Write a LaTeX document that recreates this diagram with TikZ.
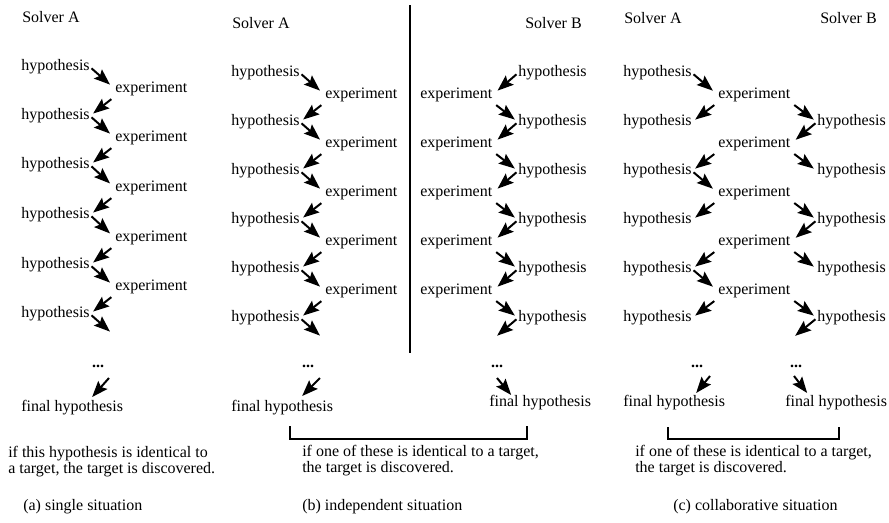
\documentclass[tikz,border=0pt]{standalone}
\usepackage{fontspec}
\setmainfont{Liberation Serif}
\usetikzlibrary{arrows.meta}
\tikzset{
  lbl/.style={anchor=west, inner sep=0pt},
  note/.style={anchor=north west, inner sep=0pt, align=left},
  flow/.style={-{Stealth[length=12pt,width=9pt,inset=2pt]}, line width=1.5pt},
  fwd/.style={flow, shorten <=1.5pt, shorten >=5pt},
  bck/.style={flow, shorten <=3.5pt, shorten >=3pt},
}
\begin{document}
\begin{tikzpicture}[x=0.75pt, y=-0.75pt, font=\fontsize{12pt}{12.2pt}\selectfont]
        \useasboundingbox (0,0) rectangle (889,522);
        % (a) single
        \node[lbl] (asa) at (22,17) {Solver A};
        \node[lbl] (ah1) at (21,67) {hypothesis};
        \node[lbl] (ae1) at (115,89) {experiment};
        \node[lbl] (ah2) at (21,116) {hypothesis};
        \node[lbl] (ae2) at (115,138) {experiment};
        \node[lbl] (ah3) at (21,165) {hypothesis};
        \node[lbl] (ae3) at (115,188) {experiment};
        \node[lbl] (ah4) at (21,215) {hypothesis};
        \node[lbl] (ae4) at (115,238) {experiment};
        \node[lbl] (ah5) at (21,265) {hypothesis};
        \node[lbl] (ae5) at (115,287) {experiment};
        \node[lbl] (ah6) at (21,314) {hypothesis};
        \coordinate (ax) at (115,336);
        \node[inner sep=0pt] (ad) at (98,366) {\textbf{...}};
        \node[lbl] (af) at (21,408) {final hypothesis};
        \draw[fwd] (ah1.east) -- (ae1.west);
        \draw[bck] (ae1.south west) -- (ah2.east);
        \draw[fwd] (ah2.east) -- (ae2.west);
        \draw[bck] (ae2.south west) -- (ah3.east);
        \draw[fwd] (ah3.east) -- (ae3.west);
        \draw[bck] (ae3.south west) -- (ah4.east);
        \draw[fwd] (ah4.east) -- (ae4.west);
        \draw[bck] (ae4.south west) -- (ah5.east);
        \draw[fwd] (ah5.east) -- (ae5.west);
        \draw[bck] (ae5.south west) -- (ah6.east);
        \draw[fwd] (ah6.east) -- (ax);
        \draw[flow] ([shift={(11,12)}]ad.center) -- ([shift={(20,-11)}]af.center);
        \node[note] (an) at (8,446) {if this hypothesis is identical to\\a target, the target is discovered.};
        \node[lbl] (ac) at (23,507) {(a) single situation};
        % (b) independent
        \draw[line width=1.2pt] (410,5) -- (410,353);
        \node[lbl] (bsa) at (232,23) {Solver A};
        \node[lbl] (bsb) at (525,23) {Solver B};
        \node[lbl] (bh1) at (231,73) {hypothesis};
        \node[lbl] (be1) at (325,95) {experiment};
        \node[lbl] (bh2) at (231,122) {hypothesis};
        \node[lbl] (be2) at (325,144) {experiment};
        \node[lbl] (bh3) at (231,171) {hypothesis};
        \node[lbl] (be3) at (325,193) {experiment};
        \node[lbl] (bh4) at (231,220) {hypothesis};
        \node[lbl] (be4) at (325,242) {experiment};
        \node[lbl] (bh5) at (231,269) {hypothesis};
        \node[lbl] (be5) at (325,291) {experiment};
        \node[lbl] (bh6) at (231,318) {hypothesis};
        \coordinate (bx) at (325,340);
        \node[lbl] (bR1) at (518,73) {hypothesis};
        \node[lbl] (bE1) at (420,95) {experiment};
        \node[lbl] (bR2) at (518,122) {hypothesis};
        \node[lbl] (bE2) at (420,144) {experiment};
        \node[lbl] (bR3) at (518,171) {hypothesis};
        \node[lbl] (bE3) at (420,193) {experiment};
        \node[lbl] (bR4) at (518,220) {hypothesis};
        \node[lbl] (bE4) at (420,242) {experiment};
        \node[lbl] (bR5) at (518,269) {hypothesis};
        \node[lbl] (bE5) at (420,291) {experiment};
        \node[lbl] (bR6) at (518,318) {hypothesis};
        \coordinate (bX) at (492,340);
        \node[inner sep=0pt] (bd) at (308,366) {\textbf{...}};
        \node[inner sep=0pt] (bD) at (497,366) {\textbf{...}};
        \node[lbl] (bf) at (231,408) {final hypothesis};
        \node[lbl] (bF) at (489,403) {final hypothesis};
        \draw[fwd] (bh1.east) -- (be1.west);
        \draw[bck] (be1.south west) -- (bh2.east);
        \draw[fwd] (bh2.east) -- (be2.west);
        \draw[bck] (be2.south west) -- (bh3.east);
        \draw[fwd] (bh3.east) -- (be3.west);
        \draw[bck] (be3.south west) -- (bh4.east);
        \draw[fwd] (bh4.east) -- (be4.west);
        \draw[bck] (be4.south west) -- (bh5.east);
        \draw[fwd] (bh5.east) -- (be5.west);
        \draw[bck] (be5.south west) -- (bh6.east);
        \draw[fwd] (bh6.east) -- (bx);
        \draw[fwd] (bR1.west) -- (bE1.east);
        \draw[bck] (bE1.south east) -- (bR2.west);
        \draw[fwd] (bR2.west) -- (bE2.east);
        \draw[bck] (bE2.south east) -- (bR3.west);
        \draw[fwd] (bR3.west) -- (bE3.east);
        \draw[bck] (bE3.south east) -- (bR4.west);
        \draw[fwd] (bR4.west) -- (bE4.east);
        \draw[bck] (bE4.south east) -- (bR5.west);
        \draw[fwd] (bR5.west) -- (bE5.east);
        \draw[bck] (bE5.south east) -- (bR6.west);
        \draw[fwd] (bR6.west) -- (bX);
        \draw[flow] ([shift={(12,12)}]bd.center) -- ([shift={(20,-12)}]bf.center);
        \draw[flow] ([shift={(0,12)}]bD.center) -- ([shift={(-29,-8)}]bF.center);
        \draw[line width=0.8pt] ([shift={(59,18)}]bf.west) -- ++(0,13) -| ([shift={(38,23)}]bF.west);
        \node[note] (bn) at (302,445) {if one of these is identical to a target,\\the target is discovered.};
        \node[lbl] (bc) at (302,507) {(b) independent situation};
        % (c) collaborative
        \node[lbl] (csa) at (624,18) {Solver A};
        \node[lbl] (csb) at (820,18) {Solver B};
        \node[lbl] (cL1) at (623,73) {hypothesis};
        \node[lbl] (cE1) at (718,95) {experiment};
        \node[lbl] (cL2) at (623,122) {hypothesis};
        \node[lbl] (cR2) at (817,122) {hypothesis};
        \node[lbl] (cE2) at (718,144) {experiment};
        \node[lbl] (cL3) at (623,171) {hypothesis};
        \node[lbl] (cR3) at (817,171) {hypothesis};
        \node[lbl] (cE3) at (718,193) {experiment};
        \node[lbl] (cL4) at (623,220) {hypothesis};
        \node[lbl] (cR4) at (817,220) {hypothesis};
        \node[lbl] (cE4) at (718,242) {experiment};
        \node[lbl] (cL5) at (623,269) {hypothesis};
        \node[lbl] (cR5) at (817,269) {hypothesis};
        \node[lbl] (cE5) at (718,291) {experiment};
        \node[lbl] (cL6) at (623,318) {hypothesis};
        \node[lbl] (cR6) at (817,318) {hypothesis};
        \coordinate (cX) at (790,340);
        \node[inner sep=0pt] (cd) at (697,366) {\textbf{...}};
        \node[inner sep=0pt] (cD) at (796,366) {\textbf{...}};
        \node[lbl] (cf) at (623,403) {final hypothesis};
        \node[lbl] (cF) at (785,403) {final hypothesis};
        \draw[fwd] (cL1.east) -- (cE1.west);
        \draw[bck] (cE1.south west) -- (cL2.east);
        \draw[bck] (cE1.south east) -- (cR2.west);
        \draw[fwd] (cR2.west) -- (cE2.east);
        \draw[bck] (cE2.south west) -- (cL3.east);
        \draw[bck] (cE2.south east) -- (cR3.west);
        \draw[fwd] (cL3.east) -- (cE3.west);
        \draw[bck] (cE3.south west) -- (cL4.east);
        \draw[bck] (cE3.south east) -- (cR4.west);
        \draw[fwd] (cR4.west) -- (cE4.east);
        \draw[bck] (cE4.south west) -- (cL5.east);
        \draw[bck] (cE4.south east) -- (cR5.west);
        \draw[fwd] (cL5.east) -- (cE5.west);
        \draw[bck] (cE5.south west) -- (cL6.east);
        \draw[bck] (cE5.south east) -- (cR6.west);
        \draw[fwd] (cR6.west) -- (cX);
        \draw[flow] ([shift={(13,10)}]cd.center) -- ([shift={(22,-10)}]cf.center);
        \draw[flow] ([shift={(-2,10)}]cD.center) -- ([shift={(-29,-10)}]cF.center);
        \draw[line width=0.8pt] ([shift={(45,24)}]cf.west) -- ++(0,12) -| ([shift={(54,24)}]cF.west);
        \node[note] (cn) at (635,445) {if one of these is identical to a target,\\the target is discovered.};
        \node[lbl] (cc) at (673,507) {(c) collaborative situation};
\end{tikzpicture}
\end{document}
